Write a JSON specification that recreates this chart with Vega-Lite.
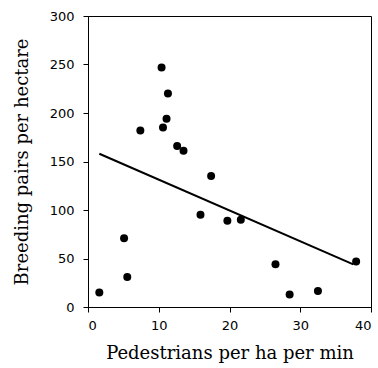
{
  "$schema": "https://vega.github.io/schema/vega-lite/v6.json",
  "autosize": "none",
  "width": 283,
  "height": 291,
  "padding": {"left": 88, "top": 16, "right": 7, "bottom": 61},
  "background": "white",
  "config": {
    "view": {"stroke": "black", "strokeWidth": 1},
    "axis": {
      "grid": false,
      "domainColor": "black",
      "tickColor": "black",
      "tickSize": 5,
      "labelFont": "DejaVu Sans",
      "labelFontSize": 13,
      "labelColor": "black",
      "titleFont": "DejaVu Serif",
      "titleFontSize": 18,
      "titleFontWeight": "normal",
      "titleColor": "black"
    }
  },
  "datasets": {
    "pts": [
      {"x": 1.6, "y": 15},
      {"x": 5.1, "y": 71},
      {"x": 5.55, "y": 31},
      {"x": 7.4, "y": 182},
      {"x": 10.4, "y": 247},
      {"x": 10.6, "y": 185},
      {"x": 11.1, "y": 194},
      {"x": 11.3, "y": 220},
      {"x": 12.6, "y": 166},
      {"x": 13.5, "y": 161},
      {"x": 15.9, "y": 95},
      {"x": 17.4, "y": 135},
      {"x": 19.7, "y": 89},
      {"x": 21.6, "y": 90},
      {"x": 26.5, "y": 44},
      {"x": 28.5, "y": 13},
      {"x": 32.5, "y": 16.5},
      {"x": 37.9, "y": 47}
    ],
    "fit": [
      {"x": 1.6, "y": 158},
      {"x": 37.5, "y": 44}
    ]
  },
  "layer": [
    {
      "data": {"name": "fit"},
      "mark": {"type": "line", "color": "black", "strokeWidth": 2},
      "encoding": {
        "x": {"field": "x", "type": "quantitative"},
        "y": {"field": "y", "type": "quantitative"}
      }
    },
    {
      "data": {"name": "pts"},
      "mark": {"type": "circle", "color": "black", "opacity": 1, "size": 64},
      "encoding": {
        "x": {
          "field": "x", "type": "quantitative",
          "scale": {"domain": [0, 40], "nice": false, "zero": false},
          "axis": {"values": [0, 10, 20, 30, 40], "title": "Pedestrians per ha per min", "labelPadding": 7, "titlePadding": 12}
        },
        "y": {
          "field": "y", "type": "quantitative",
          "scale": {"domain": [0, 300], "nice": false},
          "axis": {"values": [0, 50, 100, 150, 200, 250, 300], "title": "Breeding pairs per hectare", "labelPadding": 9, "titlePadding": 18}
        }
      }
    }
  ]
}
